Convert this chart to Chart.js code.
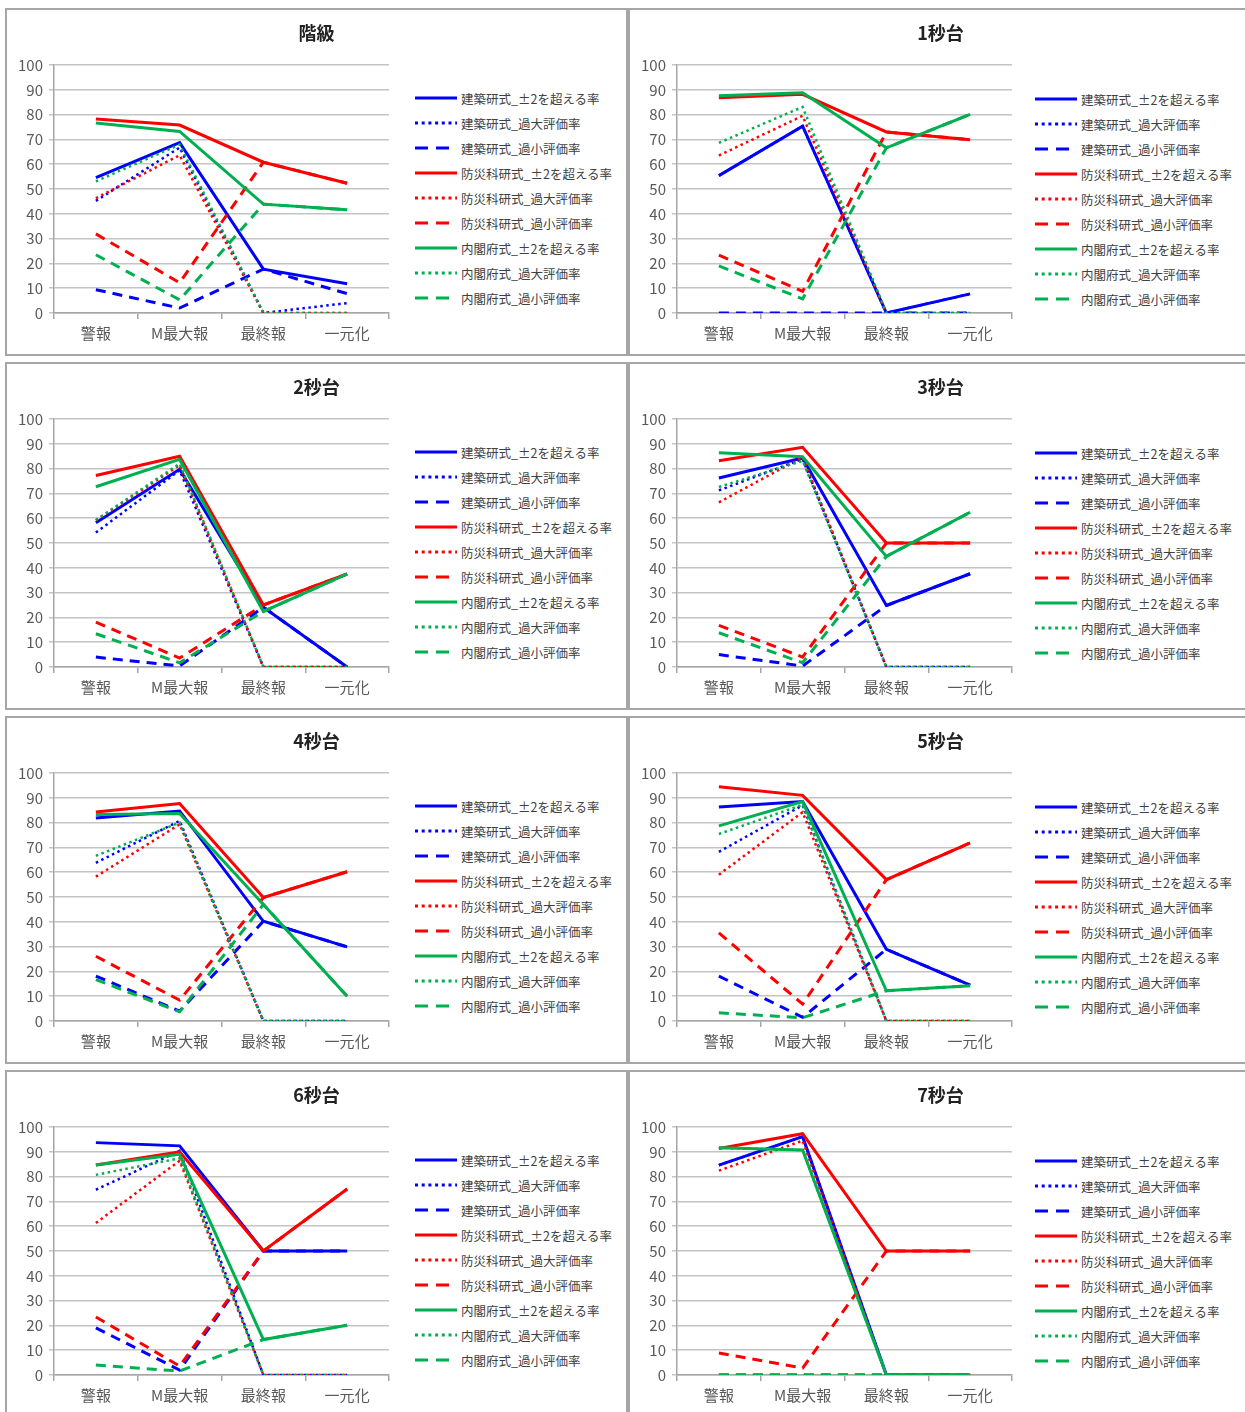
<!DOCTYPE html>
<html>
<head>
<meta charset="utf-8">
<script src="https://cdn.jsdelivr.net/npm/chart.js@4.4.0/dist/chart.umd.min.js"></script>
<style>
body{margin:0;background:#fff;width:1245px;height:1412px;overflow:hidden;position:relative;font-family:"Noto Sans CJK JP",sans-serif;}
.panel{position:absolute;border:2px solid #a6a6a6;box-sizing:border-box;background:#fff;overflow:hidden;}
.panel canvas{position:absolute;left:0;top:0;}
.ttl{position:absolute;left:0;right:0;top:10px;text-align:center;font-weight:bold;font-size:18px;line-height:24px;color:#222;}
.lg{position:absolute;font-size:12.5px;color:#404040;}
.lg .row{height:25px;display:flex;align-items:center;white-space:nowrap;}
.lg svg{margin-right:4px;flex:none;}
</style>
</head>
<body>
<script>
// categories and series
const categories = ['警報','M最大報','最終報','一元化'];
const seriesNames = [
  '建築研式_±2を超える率','建築研式_過大評価率','建築研式_過小評価率',
  '防災科研式_±2を超える率','防災科研式_過大評価率','防災科研式_過小評価率',
  '内閣府式_±2を超える率','内閣府式_過大評価率','内閣府式_過小評価率'
];
const panelTitles = ['階級','1秒台','2秒台','3秒台','4秒台','5秒台','6秒台','7秒台'];

// values per panel, one row per series (same order as seriesNames)
const kaikyu = [
  [54.6, 68.7, 17.7, 11.8],
  [45.2, 66.7, 0, 4.0],
  [9.4, 2.0, 17.7, 7.8],
  [78.2, 75.8, 60.8, 52.3],
  [46.3, 63.6, 0, 0],
  [31.9, 12.2, 60.8, 52.3],
  [76.6, 73.2, 43.9, 41.6],
  [53.1, 67.9, 0, 0],
  [23.5, 5.3, 43.9, 41.6]
];
const sec1 = [
  [55.4, 75.3, 0, 7.7],
  [55.4, 75.3, 0, 7.7],
  [0, 0, 0, 0],
  [86.8, 88.2, 73.0, 69.9],
  [63.5, 79.5, 0, 0],
  [23.3, 8.7, 73.0, 69.9],
  [87.6, 88.8, 66.6, 80.1],
  [68.6, 83.1, 0, 0],
  [19.0, 5.7, 66.6, 80.1]
];
const sec2 = [
  [58.2, 79.7, 24.1, 0],
  [54.2, 79.3, 0, 0],
  [4.0, 0.4, 24.1, 0],
  [77.2, 85.0, 25.0, 37.5],
  [59.1, 81.4, 0, 0],
  [18.1, 3.6, 25.0, 37.5],
  [72.7, 83.7, 22.4, 37.5],
  [59.3, 82.0, 0, 0],
  [13.4, 1.7, 22.4, 37.5]
];
const sec3 = [
  [76.2, 84.3, 24.8, 37.6],
  [71.2, 83.9, 0, 0],
  [5.0, 0.4, 24.8, 37.6],
  [83.2, 88.6, 50.0, 50.0],
  [66.4, 84.6, 0, 0],
  [16.8, 4.0, 50.0, 50.0],
  [86.4, 84.8, 44.6, 62.4],
  [72.6, 83.1, 0, 0],
  [13.8, 1.7, 44.6, 62.4]
];
const sec4 = [
  [81.9, 84.7, 40.2, 29.9],
  [63.8, 80.7, 0, 0],
  [18.1, 4.0, 40.2, 29.9],
  [84.3, 87.7, 49.8, 60.2],
  [58.2, 79.3, 0, 0],
  [26.1, 8.4, 49.8, 60.2],
  [83.3, 83.7, 47.0, 10.0],
  [66.6, 80.0, 0, 0],
  [16.7, 3.7, 47.0, 10.0]
];
const sec5 = [
  [86.3, 88.5, 28.9, 14.5],
  [68.2, 87.0, 0, 0],
  [18.1, 1.5, 28.9, 14.5],
  [94.5, 91.0, 57.0, 71.8],
  [59.0, 84.2, 0, 0],
  [35.5, 6.8, 57.0, 71.8],
  [78.7, 88.5, 12.2, 14.2],
  [75.4, 87.2, 0, 0],
  [3.3, 1.3, 12.2, 14.2]
];
const sec6 = [
  [93.7, 92.4, 50.0, 50.0],
  [74.7, 90.4, 0, 0],
  [19.0, 2.0, 50.0, 50.0],
  [84.7, 90.0, 50.0, 75.0],
  [61.3, 86.4, 0, 0],
  [23.4, 3.6, 50.0, 75.0],
  [84.7, 89.0, 14.3, 20.1],
  [80.7, 87.4, 0, 0],
  [4.0, 1.6, 14.3, 20.1]
];
const sec7 = [
  [84.6, 96.1, 0, 0],
  [84.6, 96.1, 0, 0],
  [0, 0, 0, 0],
  [91.3, 97.3, 50.0, 50.0],
  [82.4, 94.5, 0, 0],
  [8.9, 2.8, 50.0, 50.0],
  [91.6, 90.7, 0, 0],
  [91.6, 90.7, 0, 0],
  [0, 0, 0, 0]
];
const panelData = [kaikyu, sec1, sec2, sec3, sec4, sec5, sec6, sec7];

// styling
const colors = ['#0000ff','#ff0000','#00b050'];
const dashes = [[], [2.5, 3.5], [10, 7]];
const widths = [3, 2.5, 3];
const svgDash = ['', '3 3.7', '13 8'];

Chart.defaults.font.family = '"Noto Sans CJK JP", sans-serif';
Chart.defaults.animation = false;

const colX = [5, 628], rowY = [8, 362, 716, 1070];

panelData.forEach((rows, p) => {
  const col = p % 2, row = Math.floor(p / 2);
  const panel = document.createElement('div');
  panel.className = 'panel';
  panel.style.left = colX[col] + 'px';
  panel.style.top = rowY[row] + 'px';
  panel.style.width = (col ? 625 : 623) + 'px';
  panel.style.height = (row === 3 ? 360 : 348) + 'px';
  document.body.appendChild(panel);

  const cv = document.createElement('canvas');
  cv.width = 400; cv.height = 344;
  cv.style.width = '400px'; cv.style.height = '344px';
  panel.appendChild(cv);

  const t = document.createElement('div');
  t.className = 'ttl';
  t.textContent = panelTitles[p];
  panel.appendChild(t);

  const lg = document.createElement('div');
  lg.className = 'lg';
  lg.style.left = (col ? 405 : 408) + 'px';
  lg.style.top = (col ? 76.5 : 75.5) + 'px';
  seriesNames.forEach((name, i) => {
    const c = colors[Math.floor(i / 3)], k = i % 3;
    const r = document.createElement('div');
    r.className = 'row';
    r.innerHTML = `<svg width="42" height="6"><line x1="0" y1="3" x2="42" y2="3" stroke="${c}" stroke-width="3" ${svgDash[k] ? `stroke-dasharray="${svgDash[k]}"` : ''}/></svg><span>${name}</span>`;
    lg.appendChild(r);
  });
  panel.appendChild(lg);

  new Chart(cv, {
    type: 'line',
    data: {
      labels: categories,
      datasets: rows.map((vals, i) => ({
        label: seriesNames[i],
        data: vals,
        borderColor: colors[Math.floor(i / 3)],
        borderDash: dashes[i % 3],
        borderWidth: widths[i % 3],
        borderCapStyle: 'butt',
        pointRadius: 0,
        tension: 0,
        fill: false,
        order: 9 - i
      }))
    },
    options: {
      responsive: false,
      devicePixelRatio: 1,
      layout: {padding: {top: 55, right: 18, left: 0, bottom: 0}},
      plugins: {legend: {display: false}, title: {display: false}, tooltip: {enabled: false}},
      scales: {
        x: {
          offset: true,
          grid: {offset: true, drawOnChartArea: false, drawTicks: true, tickLength: 6, color: '#a6a6a6', lineWidth: 1.5},
          border: {color: '#a6a6a6', width: 1.5},
          ticks: {color: '#595959', font: {size: 15}, padding: 5, maxRotation: 0},
          afterFit: s => { s.height = 41; }
        },
        y: {
          min: 0, max: 100,
          grid: {color: '#c4c4c4', lineWidth: 1.5, tickLength: 5},
          border: {color: '#a6a6a6', width: 1.5},
          ticks: {stepSize: 10, color: '#595959', font: {size: 15}, padding: 6},
          afterFit: s => { s.width = 47; }
        }
      }
    }
  });
});
</script>
</body>
</html>
